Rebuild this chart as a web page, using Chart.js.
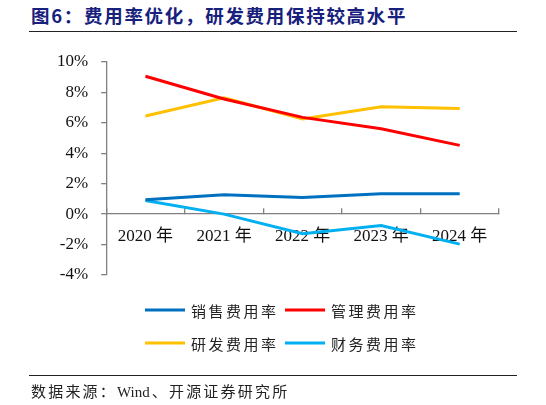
<!DOCTYPE html>
<html>
<head>
<meta charset="utf-8">
<script src="https://cdn.jsdelivr.net/npm/chart.js@4.4.1/dist/chart.umd.min.js"></script>
<style>
  html, body { margin: 0; padding: 0; background: #fff; }
  #wrap { position: relative; width: 546px; height: 405px; overflow: hidden; }
  #chart { position: absolute; left: 0; top: 0; }
  .title {
    position: absolute; left: 31px; top: 2px;
    font: bold 18.5px "Noto Sans CJK SC", sans-serif; letter-spacing: 1.7px;
    color: #17207c; white-space: nowrap;
  }
  .rule { position: absolute; left: 29px; width: 488px; height: 1px; background: #222; }
  .source {
    position: absolute; left: 31px; top: 380px;
    font: 15px "Noto Sans CJK SC", sans-serif; letter-spacing: 2.2px;
    color: #222; white-space: nowrap;
  }
  .source .en { font-family: "Liberation Serif", serif; letter-spacing: 0; margin-right: 2px; }
</style>
</head>
<body>
<div id="wrap">
  <div class="title">图6：费用率优化，研发费用保持较高水平</div>
  <div class="rule" style="top:31px"></div>
  <canvas id="chart" width="546" height="405"></canvas>
  <div class="rule" style="top:375px"></div>
  <div class="source">数据来源：<span class="en">Wind</span>、开源证券研究所</div>
</div>
<script>
/* categories and series (percent) */
var years = ['2020 年', '2021 年', '2022 年', '2023 年', '2024 年'];
var salesRate   = [0.94, 1.27, 1.10, 1.34, 1.34];
var adminRate   = [9.06, 7.57, 6.36, 5.61, 4.52];
var rdRate      = [6.45, 7.65, 6.25, 7.06, 6.95];
var financeRate = [0.90, 0.00, -1.29, -0.75, -1.97];

var seriesNames  = ['销售费用率', '管理费用率', '研发费用率', '财务费用率'];
var seriesColors = ['#0070C0', '#FF0000', '#FFC000', '#00B0F0'];

var yMin = -4, yMax = 10, yStep = 2;

function makeSet(i, data) {
  return {
    label: seriesNames[i],
    data: data,
    borderColor: seriesColors[i],
    backgroundColor: seriesColors[i],
    borderWidth: 3,
    pointRadius: 0,
    tension: 0,
    fill: false
  };
}

/* legend drawn as a 2x2 grid below the plot */
var gridLegend = {
  id: 'gridLegend',
  afterDraw: function(chart) {
    var ctx = chart.ctx;
    var cols = [145, 285];
    var rows = [310, 343];
    ctx.save();
    ctx.font = '15px "Noto Sans CJK SC", sans-serif';
    ctx.letterSpacing = '2.5px';
    ctx.textBaseline = 'middle';
    ctx.fillStyle = '#222';
    chart.data.datasets.forEach(function(ds, i) {
      var x = cols[i % 2], y = rows[Math.floor(i / 2)];
      ctx.strokeStyle = ds.borderColor;
      ctx.lineWidth = 3;
      ctx.beginPath();
      ctx.moveTo(x, y);
      ctx.lineTo(x + 40, y);
      ctx.stroke();
      ctx.fillText(ds.label, x + 46, y + 1);
    });
    ctx.restore();
  }
};

var tickFont = { family: '"Liberation Serif", "Noto Sans CJK SC", serif', size: 17 };

new Chart(document.getElementById('chart'), {
  type: 'line',
  data: {
    labels: years,
    datasets: [
      makeSet(0, salesRate),
      makeSet(1, adminRate),
      makeSet(2, rdRate),
      makeSet(3, financeRate)
    ]
  },
  options: {
    responsive: false,
    animation: false,
    layout: { padding: { left: 44, right: 47, top: 62, bottom: 130 } },
    plugins: { legend: { display: false }, tooltip: { enabled: false } },
    scales: {
      x: {
        type: 'category',
        offset: true,
        position: { y: 0 },
        border: { color: '#808080', width: 1.3 },
        grid: { offset: true, drawOnChartArea: false, drawTicks: true, tickLength: -6, color: '#808080', lineWidth: 1.3 },
        ticks: { color: '#111', font: tickFont, padding: 18, maxRotation: 0 }
      },
      y: {
        min: yMin,
        max: yMax,
        border: { color: '#808080', width: 1.3 },
        grid: { drawOnChartArea: false, drawTicks: true, tickLength: 5, color: '#808080', lineWidth: 1.3 },
        ticks: {
          stepSize: yStep,
          color: '#111',
          font: tickFont,
          padding: 13,
          callback: function(v) { return v + '%'; }
        }
      }
    }
  },
  plugins: [gridLegend]
});
</script>
</body>
</html>
